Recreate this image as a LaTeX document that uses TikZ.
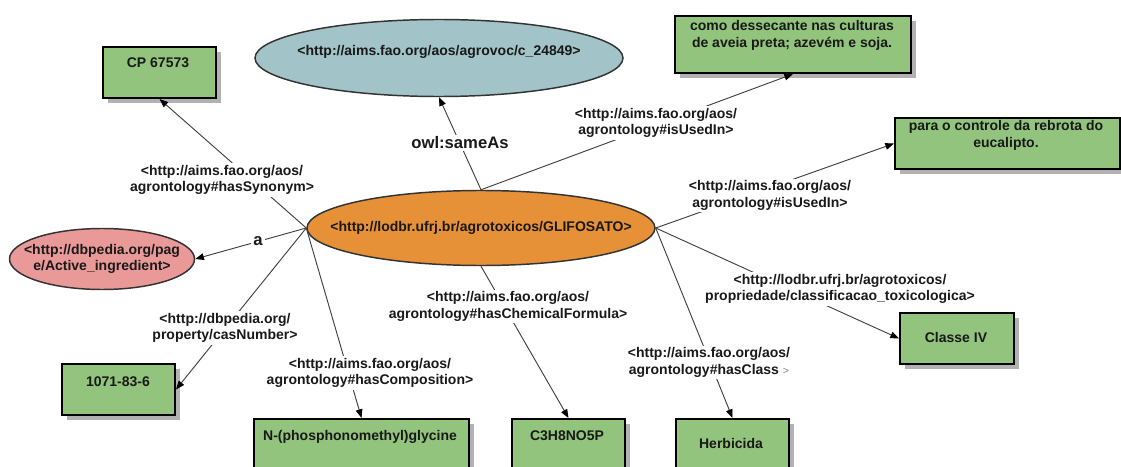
\documentclass[tikz,border=0pt]{standalone}
\usepackage{fontspec}
\setmainfont{Liberation Sans}
\usetikzlibrary{shapes.geometric,arrows.meta,shadows}
\definecolor{boxgreen}{HTML}{93C47D}
\definecolor{resorange}{HTML}{E69138}
\definecolor{resblue}{HTML}{A2C4C9}
\definecolor{respink}{HTML}{EA9999}
\begin{document}
\begin{tikzpicture}[x=0.75pt,y=-0.75pt,
  txt/.style={font=\bfseries\fontsize{10.5}{12.5}\selectfont, text=black!90, align=center, inner sep=1pt},
  lbl/.style={txt, fill=white, inner sep=1.5pt},
  biglbl/.style={font=\bfseries\fontsize{12.5}{14}\selectfont, text=black!90, fill=white, inner sep=1.5pt},
  box/.style={rectangle, draw=black, line width=1.5pt, fill=boxgreen, anchor=north west, inner sep=0pt,
    drop shadow={shadow xshift=3.5pt, shadow yshift=-3.5pt, fill=black!30, opacity=1}},
  res/.style={ellipse, draw=black!80, line width=1.1pt, inner sep=0pt},
  link/.style={draw=black!75, line width=0.7pt, -{Triangle[length=6.5pt,width=5pt,fill=black,color=black]}}
]
\useasboundingbox (0,0) rectangle (1121,467);
\clip (0,0) rectangle (1121,467);

% resources
\node[res, fill=resorange, minimum width=261pt, minimum height=56.25pt] (g) at (481,228) {};
\node[res, fill=resblue, minimum width=276pt, minimum height=57.75pt] (blue) at (439,58) {};
\node[res, fill=respink, minimum width=138.75pt, minimum height=45.75pt] (pink) at (102,259) {};

% literal boxes
\node[box, minimum width=84.75pt, minimum height=38.25pt] (cp) at (102,46) {};
\node[box, minimum width=177pt, minimum height=42.75pt] (como) at (674,15) {};
\node[box, minimum width=168.75pt, minimum height=38.25pt] (para) at (894,117) {};
\node[box, minimum width=85.5pt, minimum height=38.25pt] (classe) at (899,312) {};
\node[box, minimum width=84.75pt, minimum height=38.25pt] (cas) at (61,363) {};
\node[box, minimum width=161.25pt, minimum height=38.25pt] (npg) at (253,418) {};
\node[box, minimum width=84.75pt, minimum height=38.25pt] (c3) at (511,418) {};
\node[box, minimum width=84.75pt, minimum height=38.25pt] (herb) at (675,418) {};

% texts inside shapes
\node[txt] (gt) at (481,228) {<http://lodbr.ufrj.br/agrotoxicos/GLIFOSATO>};
\node[txt] (bluet) at (439,52) {<http://aims.fao.org/aos/agrovoc/c\_24849>};
\node[txt] (pinkt) at (102,259) {<http://dbpedia.org/pag\\e/Active\_ingredient>};
\node[txt] (cpt) at (158,63) {CP 67573};
\node[txt] (comot) at (792,35.5) {como dessecante nas culturas\\de aveia preta; azevém e soja.};
\node[txt] (parat) at (1006,135.5) {para o controle da rebrota do\\eucalipto.};
\node[txt] (classet) at (956,337) {Classe IV};
\node[txt] (cast) at (118,382) {1071-83-6};
\node[txt] (npgt) at (360,437) {N-(phosphonomethyl)glycine};
\node[txt] (c3t) at (567,436) {C3H8NO5P};
\node[txt] (herbt) at (731,443) {Herbicida};

% connectors
\draw[link] (g.west) -- (cp.south);
\draw[link] (g.west) -- (pink.east);
\draw[link] (g.west) -- (cas.east);
\draw[link] (g.west) -- (npg.north);
\draw[link] (g.north) -- (blue.south);
\draw[link] (g.north) -- (como.south);
\draw[link] (g.east) -- (para.west);
\draw[link] (g.east) -- (classe.west);
\draw[link] (g.east) -- (herb.north);
\draw[link] (g.south) -- (c3.north);

% connector labels
\node[lbl] (l1) at (222,180) {<http://aims.fao.org/aos/\\agrontology\#hasSynonym>};
\node[biglbl] (l2) at (258,241) {a};
\node[lbl] (l3) at (225,328) {<http://dbpedia.org/\\property/casNumber>};
\node[lbl] (l4) at (370,373) {<http://aims.fao.org/aos/\\agrontology\#hasComposition>};
\node[biglbl] (l5) at (460,143) {owl:sameAs};
\node[lbl] (l6) at (656,123) {<http://aims.fao.org/aos/\\agrontology\#isUsedIn>};
\node[lbl] (l7) at (770,195.5) {<http://aims.fao.org/aos/\\agrontology\#isUsedIn>};
\node[lbl] (l8) at (840,289) {<http://lodbr.ufrj.br/agrotoxicos/\\propriedade/classificacao\_toxicologica>};
\node[lbl] (l9) at (709,362.5) {<http://aims.fao.org/aos/\\agrontology\#hasClass {\mdseries\color{black!50}\footnotesize >}};
\node[lbl] (l10) at (508,306.5) {<http://aims.fao.org/aos/\\agrontology\#hasChemicalFormula>};
\end{tikzpicture}
\end{document}
